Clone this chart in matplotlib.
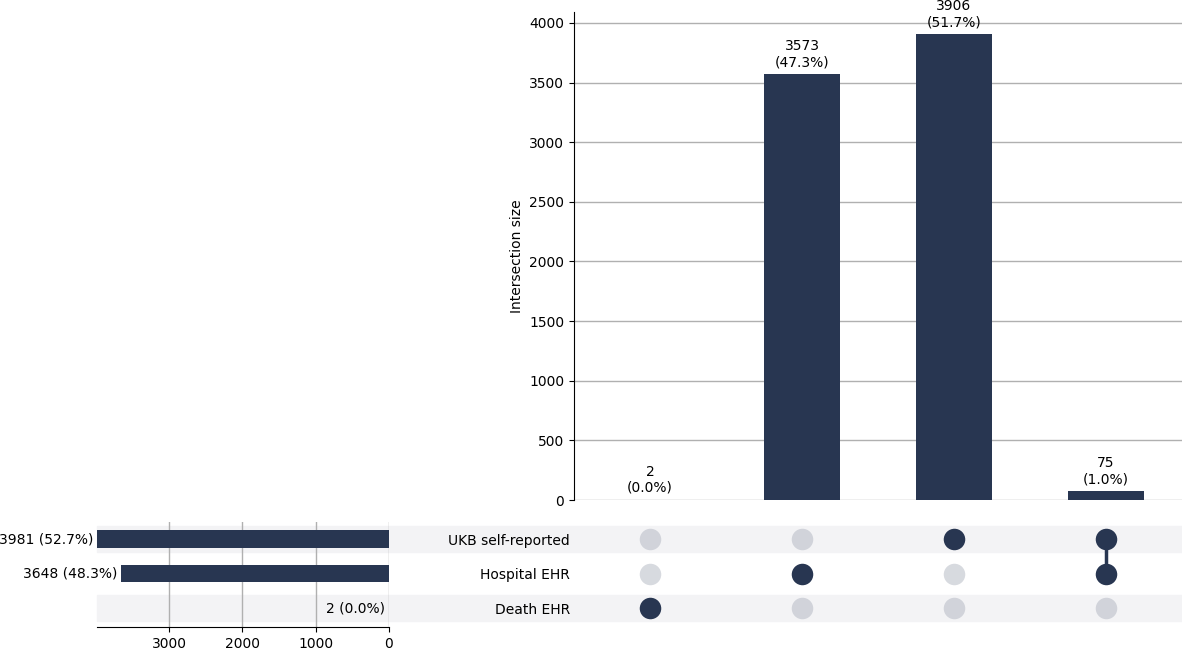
import matplotlib
matplotlib.use("Agg")
import matplotlib.pyplot as plt
from matplotlib.patches import Rectangle
from matplotlib.transforms import blended_transform_factory
import numpy as np

# ---- data ----
set_names = ["UKB self-reported", "Hospital EHR", "Death EHR"]
set_totals = [3981, 3648, 2]
# membership of each intersection (rows follow set_names)
intersections = [
    [0, 0, 1],
    [0, 1, 0],
    [1, 0, 0],
    [1, 1, 0],
]
intersection_sizes = [2, 3573, 3906, 75]
yticks_inter = [0, 500, 1000, 1500, 2000, 2500, 3000, 3500, 4000]
xticks_totals = [3000, 2000, 1000, 0]

total_n = sum(intersection_sizes)
dark = "#283651"
stripe = "#f3f3f5"

W, H = 1182, 651
fig = plt.figure(figsize=(W / 100, H / 100), dpi=100)

def ax_px(l, t, r, b):
    return fig.add_axes([l / W, 1 - b / H, (r - l) / W, (b - t) / H])

ax_bar = ax_px(574, 12, 1182, 500)
ax_mat = ax_px(574, 521.75, 1182, 625.25)
ax_tot = ax_px(97, 521.75, 389, 627)

n_int = len(intersection_sizes)
n_set = len(set_names)
xs = np.arange(n_int)
ys = np.arange(n_set)

# ---- intersection bars ----
ax_bar.bar(xs, intersection_sizes, width=0.5, color=dark, zorder=3)
for x, v in zip(xs, intersection_sizes):
    ax_bar.text(x, v + 40, f"{v}\n({100 * v / total_n:.1f}%)", ha="center",
                va="bottom", fontsize=10)
ax_bar.set_xlim(-0.5, n_int - 0.5)
ax_bar.set_ylim(0, 4092)
ax_bar.set_yticks(yticks_inter)
ax_bar.set_xticks([])
ax_bar.yaxis.grid(True, color="#b0b0b0", linewidth=1, zorder=0)
ax_bar.set_axisbelow(True)
for s in ["top", "right", "bottom"]:
    ax_bar.spines[s].set_visible(False)
ax_bar.set_ylabel("Intersection size", fontsize=10)
ax_bar.set_facecolor("none")

# ---- matrix ----
for x, memb in zip(xs, intersections):
    act = [y for y, m in zip(ys, memb) if m]
    if len(act) > 1:
        ax_mat.plot([x, x], [min(act), max(act)], color=dark, lw=2.5, zorder=2)
    for y, m in zip(ys, memb):
        if m:
            ax_mat.scatter(x, y, s=240, color=dark, zorder=3, linewidths=0)
        else:
            ax_mat.scatter(x, y, s=240, color="#a8adba", alpha=0.45,
                           zorder=3, linewidths=0)
ax_mat.set_xlim(-0.5, n_int - 0.5)
ax_mat.set_ylim(n_set - 0.5, -0.5)
ax_mat.set_yticks(ys)
ax_mat.set_yticklabels(set_names, fontsize=10)
ax_mat.tick_params(axis="y", length=0, pad=3)
ax_mat.set_xticks([])
for s in ax_mat.spines.values():
    s.set_visible(False)
ax_mat.set_facecolor("none")

# stripes spanning totals and matrix
tr = blended_transform_factory(fig.transFigure, ax_mat.transData)
for y in ys:
    if y % 2 == 0:
        fig.patches.append(Rectangle((97 / W, y - 0.39), (1182 - 97) / W, 0.78,
                                     transform=tr, color=stripe, zorder=-5,
                                     figure=fig))

# ---- totals ----
ax_tot.barh(ys, set_totals, height=0.5, color=dark, zorder=3)
for y, v in zip(ys, set_totals):
    ax_tot.text(v + 50, y, f"{v} ({100 * v / total_n:.1f}%)", ha="right",
                va="center", fontsize=10)
ax_tot.set_xlim(max(set_totals), 0)
ax_tot.set_ylim(n_set - 0.5 + 0.05, -0.5)
ax_tot.set_xticks(xticks_totals)
ax_tot.set_yticks([])
ax_tot.xaxis.grid(True, color="#b0b0b0", linewidth=1, zorder=0)
ax_tot.set_axisbelow(True)
for s in ["top", "left", "right"]:
    ax_tot.spines[s].set_visible(False)
ax_tot.tick_params(axis="x", labelsize=10)
ax_tot.set_facecolor("none")

fig.savefig("out.png", dpi=100)
